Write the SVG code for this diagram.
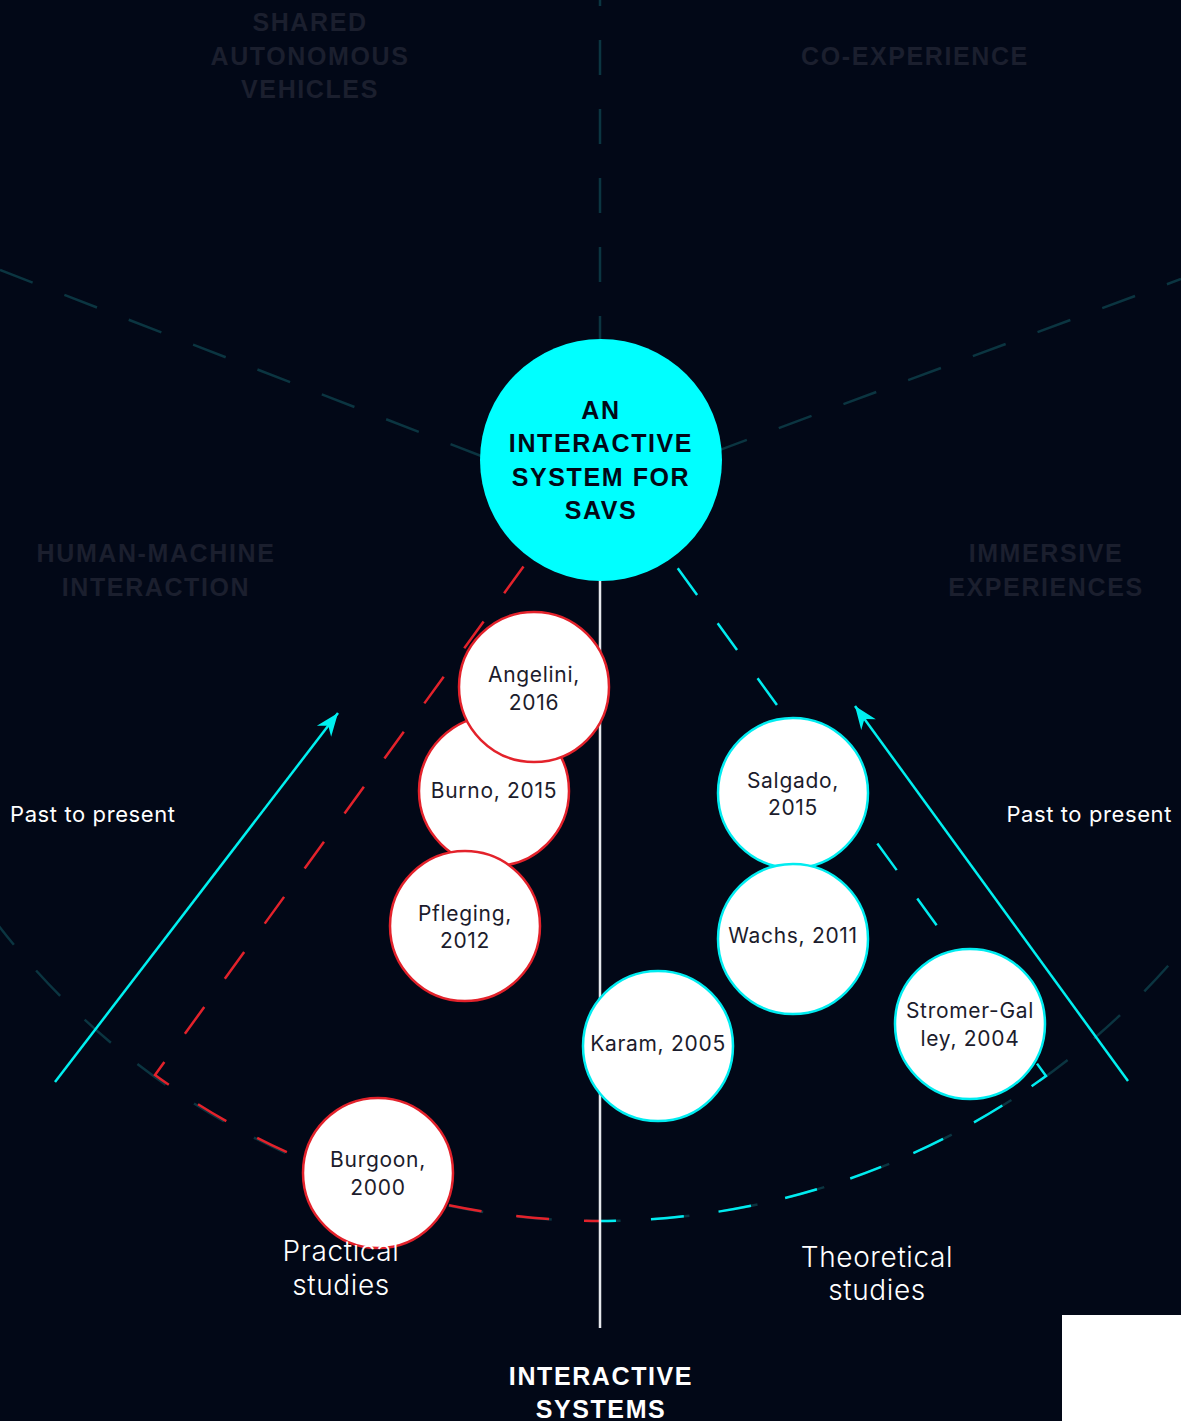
<svg xmlns="http://www.w3.org/2000/svg" width="1181" height="1421" viewBox="0 0 1181 1421">
<style>
.faint{fill:none;stroke:#0b3541;stroke-width:2.5;stroke-dasharray:35 34}
.hdr{font-family:"Liberation Sans",Arial,sans-serif;font-weight:bold;font-size:25px;letter-spacing:1.6px;text-anchor:middle}
.ghost{fill:#1b1f2e}
.node{fill:#ffffff;stroke-width:2.5}
.red{stroke:#e3222b}
.cyan{stroke:#00ecf0}
.nt{font-family:Inter,"Noto Sans",sans-serif;font-size:21px;fill:#1c1c2c;text-anchor:middle;letter-spacing:0.7px}
.lbl{font-family:Inter,"Noto Sans",sans-serif;fill:#ffffff}
.big{font-size:28px;font-weight:300;text-anchor:middle;letter-spacing:0.6px}
.wedge{fill:none;stroke-width:2.5;stroke-dasharray:33 35;stroke-dashoffset:17}
</style>
<defs>
<marker id="ah" viewBox="-24 -10 26 20" refX="0" refY="0" markerWidth="26" markerHeight="20" markerUnits="userSpaceOnUse" orient="auto">
<path d="M0,0 L-23,-9 L-16,0 L-23,9 Z" fill="#00f0f0"/>
</marker>
</defs>
<rect x="0" y="0" width="1181" height="1421" fill="#020817"/>
<g id="background-grid">
<line class="faint" x1="600" y1="0" x2="600" y2="345" stroke-dashoffset="29"/>
<line class="faint" x1="0" y1="270" x2="520" y2="471"/>
<line class="faint" x1="1181" y1="279" x2="690" y2="461" stroke-dashoffset="20"/>
<circle class="faint" cx="600" cy="461" r="760" stroke-dasharray="32 35"/>
</g>
<g id="ghost-labels" class="hdr ghost">
<text x="310" y="31">SHARED</text>
<text x="310" y="65">AUTONOMOUS</text>
<text x="310" y="98">VEHICLES</text>
<text x="915" y="65">CO-EXPERIENCE</text>
<text x="156" y="562">HUMAN-MACHINE</text>
<text x="156" y="596">INTERACTION</text>
<text x="1046" y="562">IMMERSIVE</text>
<text x="1046" y="596">EXPERIENCES</text>
</g>
<g id="connectors">
<path class="wedge red" d="M600,1221 A760,760 0 0 1 155,1075 L600,461"/>
<path class="wedge cyan" d="M600,1221 A760,760 0 0 0 1046,1076 L600,461"/>
<line x1="600" y1="575" x2="600" y2="1328" stroke="#e6e8ec" stroke-width="2.5"/>
<line x1="55" y1="1082" x2="338" y2="713" stroke="#00f0f0" stroke-width="2.5" marker-end="url(#ah)"/>
<line x1="1128" y1="1081" x2="855" y2="706" stroke="#00f0f0" stroke-width="2.5" marker-end="url(#ah)"/>
</g>
<g id="center">
<circle cx="601" cy="460" r="121" fill="#00ffff"/>
<g class="hdr" fill="#020817">
<text x="601" y="419">AN</text>
<text x="601" y="452">INTERACTIVE</text>
<text x="601" y="486">SYSTEM FOR</text>
<text x="601" y="519">SAVS</text>
</g>
</g>
<g id="burno"><circle class="node red" cx="494" cy="791" r="75"/><text class="nt" x="494" y="798">Burno, 2015</text></g>
<g id="pfleging"><circle class="node red" cx="465" cy="926" r="75"/><text class="nt" x="465" y="921">Pfleging,</text><text class="nt" x="465" y="948">2012</text></g>
<g id="angelini"><circle class="node red" cx="534" cy="687" r="75"/><text class="nt" x="534" y="682">Angelini,</text><text class="nt" x="534" y="710">2016</text></g>
<g id="burgoon"><circle class="node red" cx="378" cy="1173" r="75"/><text class="nt" x="378" y="1167">Burgoon,</text><text class="nt" x="378" y="1195">2000</text></g>
<g id="karam"><circle class="node cyan" cx="658" cy="1046" r="75"/><text class="nt" x="658" y="1051">Karam, 2005</text></g>
<g id="salgado"><circle class="node cyan" cx="793" cy="793" r="75"/><text class="nt" x="793" y="788">Salgado,</text><text class="nt" x="793" y="815">2015</text></g>
<g id="wachs"><circle class="node cyan" cx="793" cy="939" r="75"/><text class="nt" x="793" y="943">Wachs, 2011</text></g>
<g id="stromer"><circle class="node cyan" cx="970" cy="1024" r="75"/><text class="nt" x="970" y="1018">Stromer-Gal</text><text class="nt" x="970" y="1046">ley, 2004</text></g>
<g id="labels">
<text class="lbl" x="10" y="822" font-size="22" letter-spacing="0.6">Past to present</text>
<text class="lbl" x="1172" y="822" font-size="22" letter-spacing="0.6" text-anchor="end">Past to present</text>
<text class="lbl big" x="341" y="1261">Practical</text>
<text class="lbl big" x="341" y="1295">studies</text>
<text class="lbl big" x="877" y="1267">Theoretical</text>
<text class="lbl big" x="877" y="1300">studies</text>
<g class="hdr" fill="#ffffff">
<text x="601" y="1385">INTERACTIVE</text>
<text x="601" y="1418">SYSTEMS</text>
</g>
</g>
<rect x="1062" y="1315" width="119" height="106" fill="#ffffff"/>
</svg>
